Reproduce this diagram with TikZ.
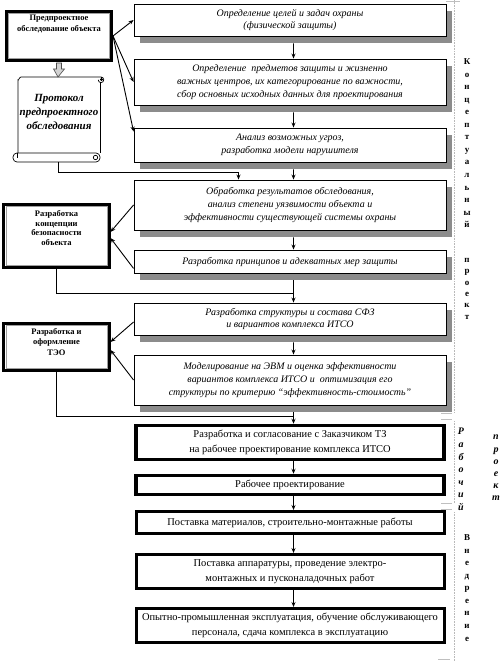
\documentclass[tikz,border=0pt]{standalone}
\usepackage{fontspec}
\setmainfont{Liberation Serif}
\usetikzlibrary{arrows.meta,calc,shadows}
\definecolor{shadowgray}{gray}{0.55}
\begin{document}
\begin{tikzpicture}[x=1bp,y=-1bp,
  cbox/.style={draw, line width=0.9bp, fill=white, minimum width=312bp, inner sep=1bp, align=center,
    font=\itshape\fontsize{10}{13}\selectfont,
    drop shadow={shadow xshift=6bp, shadow yshift=-7bp, fill=shadowgray, opacity=1}},
  wbox/.style={draw, line width=3.5bp, fill=white, minimum width=308bp, inner xsep=0bp, align=center,
    font=\fontsize{10.5}{15}\selectfont},
  lbox/.style={draw, line width=3bp, fill=white, inner sep=0bp},
  inframe/.style={draw=gray!75, line width=0.8bp},
  ltext/.style={align=center, inner sep=0bp, font=\bfseries\fontsize{8.5}{10}\selectfont},
  arr/.style={line width=0.9bp, -{Stealth[length=5bp,width=4bp]}},
  conn/.style={line width=0.9bp},
  sideline/.style={draw=gray!55, line width=0.6bp, densely dotted},
  faint/.style={draw=gray!50, line width=0.5bp},
  vlab/.style={align=center, inner sep=0bp, anchor=north},
]
\useasboundingbox (0,0) rectangle (504,662);

% ---------- right column boxes (concept) ----------
\node[cbox, minimum height=32bp] (b1) at (290,20) {Определение целей и задач охраны\\(физической защиты)};
\node[cbox, minimum height=46bp] (b2) at (290,82) {Определение\ \ предметов защиты и жизненно\\важных центров, их категорирование по важности,\\сбор основных исходных данных для проектирования};
\node[cbox, minimum height=34bp] (b3) at (290,145) {Анализ возможных угроз,\\разработка модели нарушителя};
\node[cbox, minimum height=50bp] (b4) at (290,205) {Обработка результатов обследования,\\анализ степени уязвимости объекта и\\эффективности существующей системы охраны};
\node[cbox, minimum height=23bp] (b5) at (290,261.5) {Разработка принципов и адекватных мер защиты};
\node[cbox, minimum height=32bp] (b6) at (290,319) {Разработка структуры и состава СФЗ\\и вариантов комплекса ИТСО};
\node[cbox, minimum height=50bp] (b7) at (290,380) {Моделирование на ЭВМ и оценка эффективности\\вариантов комплекса ИТСО и\ \ оптимизация его\\структуры по критерию “эффективность-стоимость”};

% ---------- right column boxes (working project, implementation) ----------
\node[wbox, minimum height=34bp] (b8) at (290,442.5) {Разработка и согласование с Заказчиком ТЗ\\на рабочее проектирование комплекса ИТСО};
\node[wbox, minimum height=19bp] (b9) at (290,485) {Рабочее проектирование};
\node[wbox, line width=3bp, minimum height=22bp] (b10) at (290,522.5) {Поставка материалов, строительно-монтажные работы};
\node[wbox, line width=3bp, minimum height=34bp] (b11) at (290,571.5) {Поставка аппаратуры, проведение электро-\\монтажных и пусконаладочных работ};
\node[wbox, line width=3bp, minimum height=34bp] (b12) at (290,625.5) {Опытно-промышленная эксплуатация, обучение обслуживающего\\персонала, сдача комплекса в эксплуатацию};

% ---------- left column ----------
\node[lbox, minimum width=105bp, minimum height=49bp] (L1) at (59,36) {};
\draw[inframe] ([shift={(3.5,3.5)}]L1.north west) rectangle ([shift={(-3.5,-3.5)}]L1.south east);
\node[ltext, font=\bfseries\fontsize{8.5}{11.5}\selectfont] (L1t) at (59,24) {Предпроектное\\обследование объекта};

% scroll
\draw[line width=0.7bp, fill=white] (18,153) -- (18,80) to[out=-90,in=180] (21,77) -- (101,77)
   arc[start angle=-90, end angle=180, radius=2.8] ;
\draw[line width=0.7bp] (101,77) -- (101,80) (100,82) -- (100,153);
\draw[line width=0.7bp] (101.5,79.5) circle[radius=1.2];
\draw[line width=0.7bp, fill=white, rounded corners=4bp] (13,153) rectangle (100,162);
\draw[line width=0.7bp] (95.5,157.5) circle[radius=2.2];
\draw[line width=0.7bp] (17,153) to[out=-90,in=90] (17,158);
\node[align=center, inner sep=0bp, font=\bfseries\itshape\fontsize{11}{14}\selectfont] (S) at (59,112) {Протокол\\предпроектного\\обследования};
\coordinate (Stop) at (58,77);
\coordinate (Sbot) at (58.5,162);

% block arrow L1 -> scroll
\draw[draw=gray!60!black, fill=gray!35, line width=0.6bp]
  ($(L1.south)+(-2.5,1)$) -- ($(L1.south)+(2.5,1)$) -- ($(L1.south)+(2.5,7)$) -- ($(L1.south)+(5.5,7)$)
  -- (Stop) -- ($(L1.south)+(-5.5,7)$) -- ($(L1.south)+(-2.5,7)$) -- cycle;

\node[lbox, minimum width=105bp, minimum height=63bp] (L2) at (56.5,236) {};
\draw[inframe] ([shift={(3.5,3.5)}]L2.north west) rectangle ([shift={(-3.5,-3.5)}]L2.south east);
\node[ltext] (L2t) at (56.5,228) {Разработка\\концепции\\безопасности\\объекта};

\node[lbox, minimum width=105bp, minimum height=47bp] (L3) at (56.5,347) {};
\draw[inframe] ([shift={(3.5,3.5)}]L3.north west) rectangle ([shift={(-3.5,-3.5)}]L3.south east);
\node[ltext, font=\bfseries\fontsize{8.5}{10.5}\selectfont] (L3t) at (56.5,342) {Разработка и\\оформление\\ТЭО};

% ---------- connectors ----------
\draw[arr] (L1.east) -- (b1.west);
\draw[arr] (L1.east) -- (b2.west);
\draw[arr] (L1.east) -- ($(b3.north west)+(0,4)$);

\draw[arr] ([shift={(3.5,7)}]b1.south) -- ([xshift=3.5bp]b2.north);
\draw[arr] ([shift={(3.5,7)}]b2.south) -- ([xshift=3.5bp]b3.north);
\draw[arr] ([shift={(3.5,7)}]b3.south) -- ([xshift=3.5bp]b4.north);
\coordinate (j1) at (238.5,172.5);
\draw[arr] (Sbot) |- (j1) -- (j1 |- b4.north);
\draw[arr] ([shift={(3.5,7)}]b4.south) -- ([xshift=3.5bp]b5.north);

\draw[arr] (b4.west) -- ($(L2.east)+(0,-4)$);
\draw[arr] ($(b5.south west)+(0,-5)$) -- ($(L2.east)+(0,2)$);

\coordinate (j2) at (293.5,293.5);
\draw[conn] ([shift={(3.5,7)}]b5.south) -- (j2);
\draw[arr] (L2.south) |- (j2) -- ([xshift=3.5bp]b6.north);
\draw[arr] ([shift={(3.5,7)}]b6.south) -- ([xshift=3.5bp]b7.north);

\draw[arr] ($(b6.west)+(0,3)$) -- ($(L3.east)+(0,-5)$);
\draw[arr] (b7.west) -- ($(L3.east)+(0,3)$);

\coordinate (j3) at (293.5,416.5);
\draw[conn] ([shift={(3.5,7)}]b7.south) -- (j3);
\draw[arr] (L3.south) |- (j3) -- ([xshift=3.5bp]b8.north);

\draw[arr] ([xshift=3.5bp]b8.south) -- ([xshift=3.5bp]b9.north);
\draw[arr] ([xshift=3.5bp]b9.south) -- ([xshift=3.5bp]b10.north);
\draw[arr] ([xshift=3.5bp]b10.south) -- ([xshift=3.5bp]b11.north);
\draw[arr] ([xshift=3.5bp]b11.south) -- ([xshift=3.5bp]b12.north);

% ---------- side rules and labels ----------
\draw[sideline] (454,0) -- (454,413);
\draw[sideline] (454,421) -- (454,504);
\draw[sideline] (454,512) -- (454,662);
\draw[faint] (441,413) -- (452,413);
\draw[faint] (441,419) -- (452,419);
\draw[faint] (441,503) -- (452,503);
\draw[faint] (441,509) -- (452,509);
\draw[faint] (438,659) -- (450,659);
\draw[faint] (446,1) -- (460,1);

\node[vlab, font=\bfseries\fontsize{9}{12.6}\selectfont] (lab1) at (467,58.5) {К\\о\\н\\ц\\е\\п\\т\\у\\а\\л\\ь\\н\\ы\\й};
\node[vlab, font=\bfseries\fontsize{9}{11.4}\selectfont] (lab2) at (467,258) {п\\р\\о\\е\\к\\т};
\node[vlab, font=\bfseries\itshape\fontsize{10}{12.7}\selectfont] (lab3) at (461,428) {Р\\а\\б\\о\\ч\\и\\й};
\node[vlab, font=\bfseries\itshape\fontsize{10}{12.2}\selectfont] (lab4) at (496,435) {п\\р\\о\\е\\к\\т};
\node[vlab, font=\bfseries\fontsize{9}{12.6}\selectfont] (lab5) at (467,534.5) {В\\н\\е\\д\\р\\е\\н\\и\\е};
\end{tikzpicture}
\end{document}
